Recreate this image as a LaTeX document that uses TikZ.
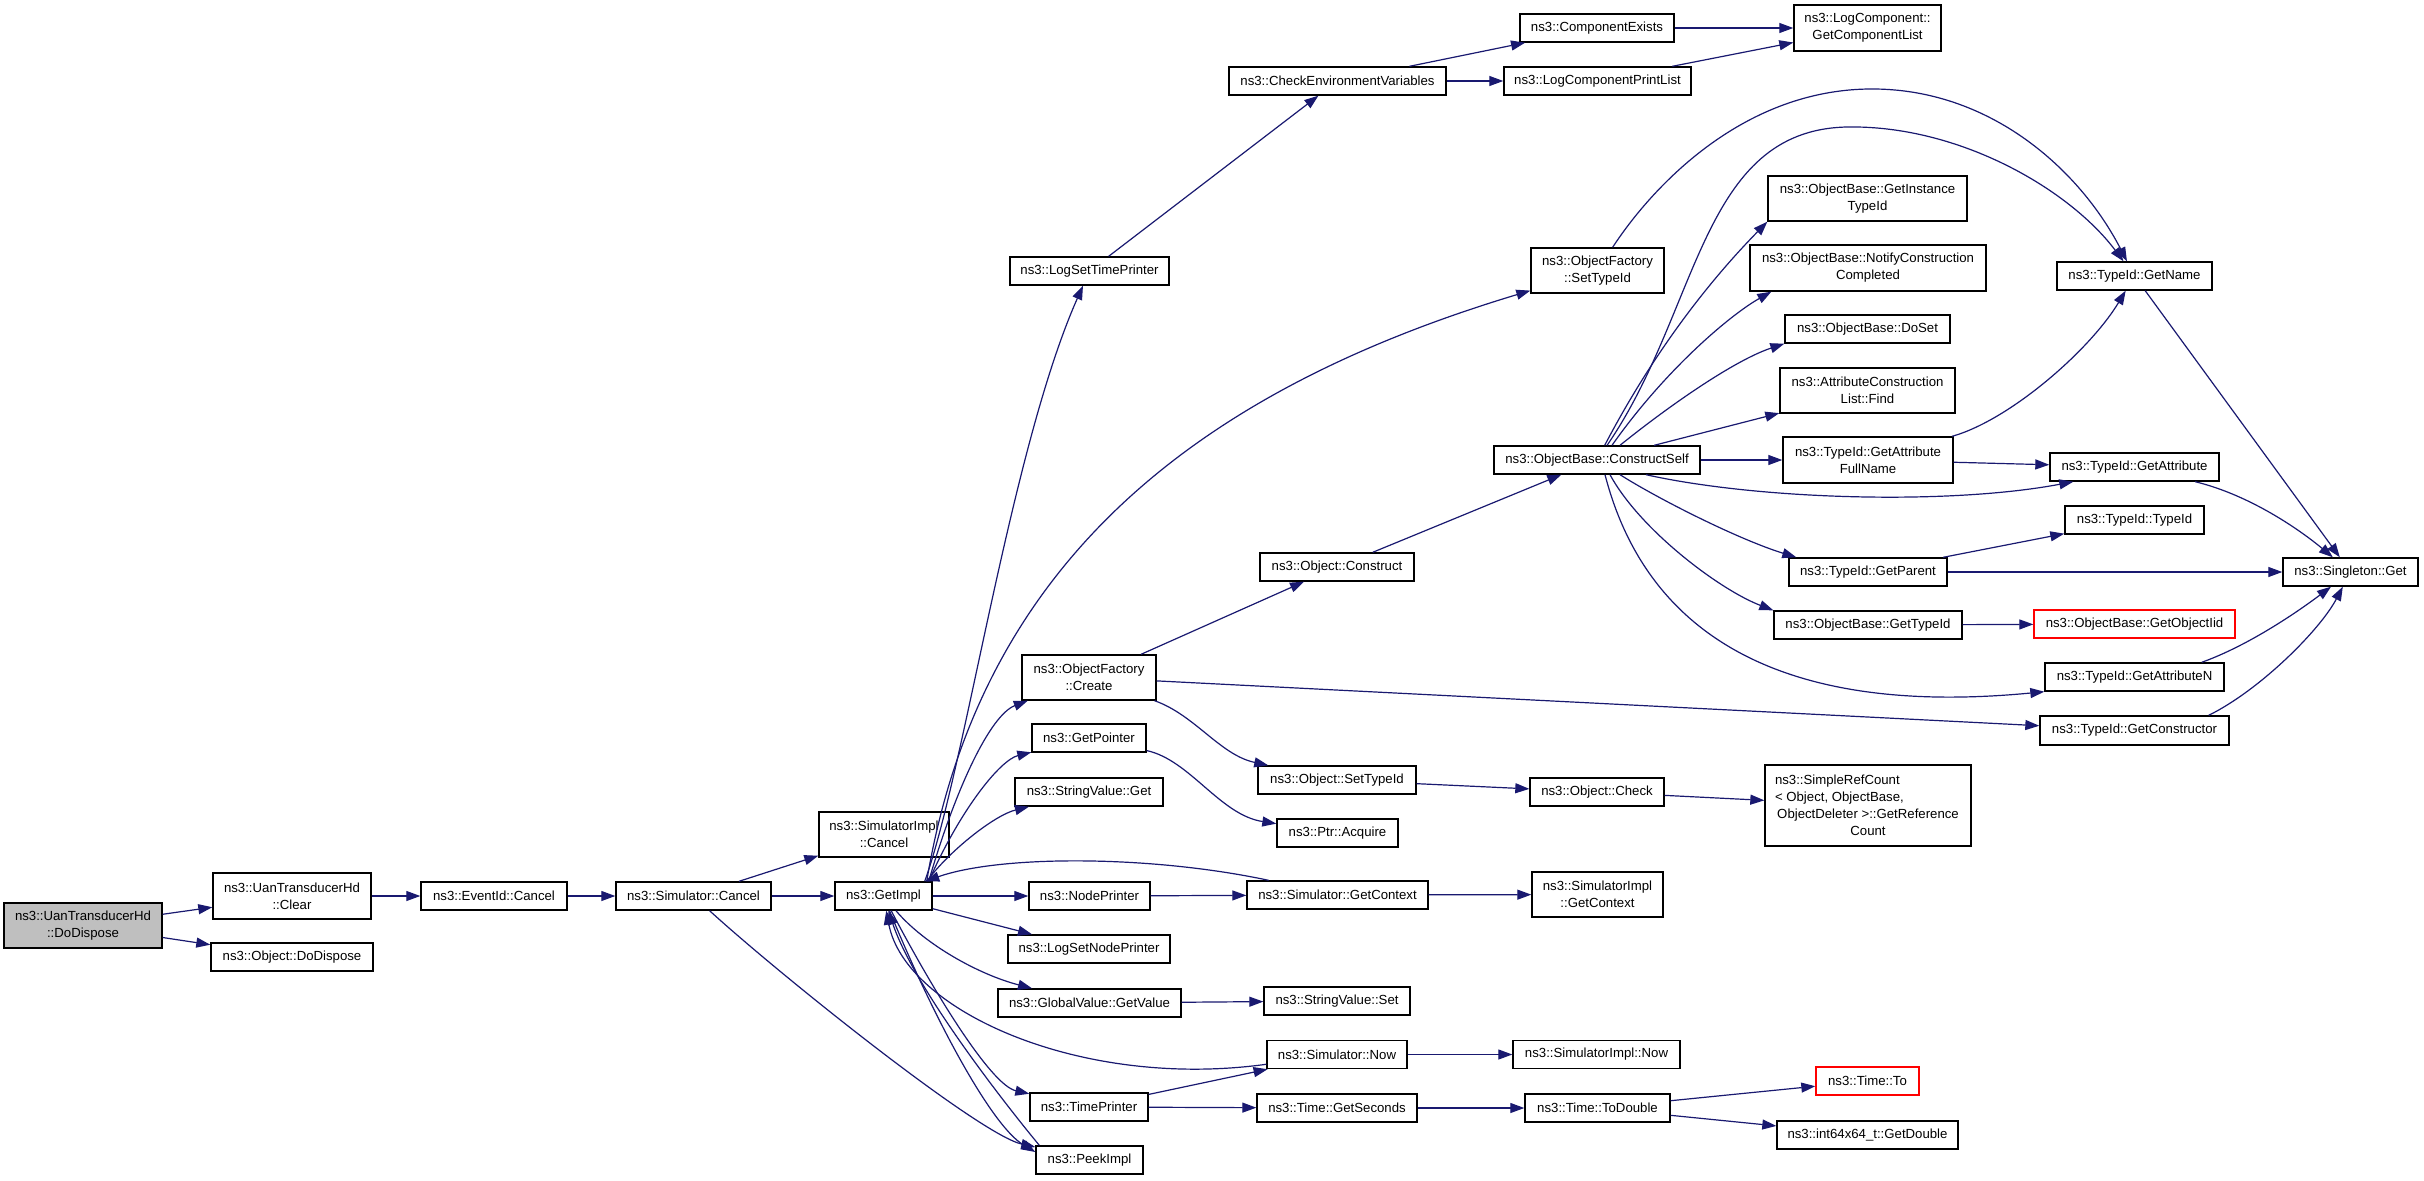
\documentclass[tikz,border=0pt]{standalone}
\usepackage{fontspec}
\setmainfont{Liberation Sans}
\usetikzlibrary{arrows.meta}
\definecolor{edgecol}{HTML}{191970}
\definecolor{grayfill}{HTML}{BFBFBF}
\begin{document}
\begin{tikzpicture}[x=1pt,y=-1pt,
  fn/.style={draw=black, line width=1.4pt, fill=white, inner sep=0pt, align=center,
             font=\fontsize{13.2}{17}\selectfont},
  hilite/.style={draw=red},
  edge/.style={draw=edgecol, line width=1.2pt, -{Triangle[length=14pt,width=10pt]}},
]
\fill[white] (0,0) rectangle (2424,1180);
\useasboundingbox (0,0) rectangle (2424,1180);

% nodes
\node[fn, fill=grayfill, minimum width=158pt, minimum height=45pt] (dodispose) at (83,925.5) {ns3::UanTransducerHd\\::DoDispose};
\node[fn, minimum width=158pt, minimum height=46pt] (clear) at (292,896) {ns3::UanTransducerHd\\::Clear};
\node[fn, minimum width=162pt, minimum height=28pt] (objdispose) at (292,957) {ns3::Object::DoDispose};
\node[fn, minimum width=146pt, minimum height=28pt] (eventcancel) at (494,896) {ns3::EventId::Cancel};
\node[fn, minimum width=155pt, minimum height=28pt] (simcancel) at (693.5,896) {ns3::Simulator::Cancel};
\node[fn, minimum width=130pt, minimum height=45pt] (simimplcancel) at (884,834.5) {ns3::SimulatorImpl\\::Cancel};
\node[fn, minimum width=97pt, minimum height=28pt] (getimpl) at (883.5,896) {ns3::GetImpl};
\node[fn, minimum width=159pt, minimum height=28pt] (logsettime) at (1089.5,271) {ns3::LogSetTimePrinter};
\node[fn, minimum width=217pt, minimum height=28pt] (checkenv) at (1337.5,81) {ns3::CheckEnvironmentVariables};
\node[fn, minimum width=154pt, minimum height=28pt] (compexists) at (1597,28) {ns3::ComponentExists};
\node[fn, minimum width=187pt, minimum height=28pt] (logcompprint) at (1597.5,81) {ns3::LogComponentPrintList};
\node[fn, minimum width=147pt, minimum height=46pt] (getcomplist) at (1867.5,28) {ns3::LogComponent::\\GetComponentList};
\node[fn, minimum width=133pt, minimum height=45pt] (ofsettypeid) at (1597.5,270.5) {ns3::ObjectFactory\\::SetTypeId};
\node[fn, minimum width=199pt, minimum height=45pt] (getinstance) at (1867.5,198.5) {ns3::ObjectBase::GetInstance\\TypeId};
\node[fn, minimum width=236pt, minimum height=46pt] (notify) at (1868,268) {ns3::ObjectBase::NotifyConstruction\\Completed};
\node[fn, minimum width=165pt, minimum height=28pt] (doset) at (1867.5,329) {ns3::ObjectBase::DoSet};
\node[fn, minimum width=175pt, minimum height=45pt] (acfind) at (1867.5,390.5) {ns3::AttributeConstruction\\List::Find};
\node[fn, minimum width=206pt, minimum height=28pt] (constructself) at (1597,460) {ns3::ObjectBase::ConstructSelf};
\node[fn, minimum width=170pt, minimum height=46pt] (getattrfull) at (1868,460) {ns3::TypeId::GetAttribute\\FullName};
\node[fn, minimum width=155pt, minimum height=28pt] (getname) at (2134.5,276) {ns3::TypeId::GetName};
\node[fn, minimum width=169pt, minimum height=28pt] (getattribute) at (2134.5,467) {ns3::TypeId::GetAttribute};
\node[fn, minimum width=139pt, minimum height=28pt] (typeidtypeid) at (2134.5,520) {ns3::TypeId::TypeId};
\node[fn, minimum width=158pt, minimum height=28pt] (getparent) at (1868,572) {ns3::TypeId::GetParent};
\node[fn, minimum width=135pt, minimum height=28pt] (singleton) at (2350.5,572) {ns3::Singleton::Get};
\node[fn, minimum width=188pt, minimum height=28pt] (getobjtypeid) at (1868,625) {ns3::ObjectBase::GetTypeId};
\node[fn, hilite, minimum width=201pt, minimum height=28pt] (getobjectiid) at (2134.5,624) {ns3::ObjectBase::GetObjectIid};
\node[fn, minimum width=179pt, minimum height=28pt] (getattrn) at (2134.5,677) {ns3::TypeId::GetAttributeN};
\node[fn, minimum width=189pt, minimum height=29pt] (getconstructor) at (2134.5,730.5) {ns3::TypeId::GetConstructor};
\node[fn, minimum width=206pt, minimum height=81pt] (simplerefcount) at (1868,805.5)
  {\makebox[186pt][l]{ns3::SimpleRefCount}\\\makebox[186pt][l]{< Object, ObjectBase,}\\ObjectDeleter >::GetReference\\Count};
\node[fn, minimum width=154pt, minimum height=28pt] (construct) at (1337,567) {ns3::Object::Construct};
\node[fn, minimum width=134pt, minimum height=45pt] (create) at (1089,677.5) {ns3::ObjectFactory\\::Create};
\node[fn, minimum width=114pt, minimum height=28pt] (getpointer) at (1089,738) {ns3::GetPointer};
\node[fn, minimum width=148pt, minimum height=28pt] (stringget) at (1089,792) {ns3::StringValue::Get};
\node[fn, minimum width=158pt, minimum height=28pt] (objsettypeid) at (1337,780) {ns3::Object::SetTypeId};
\node[fn, minimum width=134pt, minimum height=28pt] (objcheck) at (1597,792) {ns3::Object::Check};
\node[fn, minimum width=121pt, minimum height=28pt] (ptracquire) at (1337.5,833) {ns3::Ptr::Acquire};
\node[fn, minimum width=121pt, minimum height=28pt] (nodeprinter) at (1089.5,896) {ns3::NodePrinter};
\node[fn, minimum width=181pt, minimum height=28pt] (simgetcontext) at (1337.5,895) {ns3::Simulator::GetContext};
\node[fn, minimum width=131pt, minimum height=45pt] (simimplgetcontext) at (1597.5,894.5) {ns3::SimulatorImpl\\::GetContext};
\node[fn, minimum width=162pt, minimum height=28pt] (logsetnodeprinter) at (1089,949) {ns3::LogSetNodePrinter};
\node[fn, minimum width=183pt, minimum height=28pt] (globalgetvalue) at (1089.5,1003) {ns3::GlobalValue::GetValue};
\node[fn, minimum width=146pt, minimum height=28pt] (stringset) at (1337,1001) {ns3::StringValue::Set};
\node[fn, minimum width=140pt, minimum height=28pt] (simnow) at (1337,1054.5) {ns3::Simulator::Now};
\node[fn, minimum width=167pt, minimum height=28pt] (simimplnow) at (1596.5,1054.5) {ns3::SimulatorImpl::Now};
\node[fn, minimum width=118pt, minimum height=28pt] (timeprinter) at (1089,1107) {ns3::TimePrinter};
\node[fn, minimum width=160pt, minimum height=28pt] (getseconds) at (1337,1108) {ns3::Time::GetSeconds};
\node[fn, minimum width=145pt, minimum height=28pt] (todouble) at (1597.5,1108) {ns3::Time::ToDouble};
\node[fn, hilite, minimum width=103pt, minimum height=28pt] (timeto) at (1867.5,1081) {ns3::Time::To};
\node[fn, minimum width=181pt, minimum height=28pt] (getdouble) at (1867.5,1135) {ns3::int64x64\_t::GetDouble};
\node[fn, minimum width=107pt, minimum height=28pt] (peekimpl) at (1089.5,1160) {ns3::PeekImpl};

% edges
\draw[edge] (dodispose) -- (clear);
\draw[edge] (dodispose) -- (objdispose);
\draw[edge] (clear) -- (eventcancel);
\draw[edge] (eventcancel) -- (simcancel);
\draw[edge] (simcancel) -- (simimplcancel);
\draw[edge] (simcancel) -- (getimpl);
\draw[edge] (simcancel) .. controls (780,975) and (980,1135) .. ([yshift=13pt]peekimpl.west);

\draw[edge] ([xshift=-8pt]getimpl.north east) .. controls (965,770) and (1010,450) .. (logsettime);
\draw[edge] ([xshift=-6pt]getimpl.north east) .. controls (980,560) and (1200,390) .. (ofsettypeid);
\draw[edge] ([xshift=-4pt]getimpl.north east) .. controls (955,790) and (990,715) .. (create);
\draw[edge] ([xshift=-4pt]getimpl.north east) .. controls (960,810) and (1000,760) .. (getpointer);
\draw[edge] ([xshift=-6pt]getimpl.north east) .. controls (950,850) and (995,815) .. (stringget);
\draw[edge] (getimpl) -- (nodeprinter);
\draw[edge] (getimpl) -- (logsetnodeprinter);
\draw[edge] (getimpl) .. controls (925,945) and (980,975) .. (globalgetvalue);
\draw[edge] (getimpl) .. controls (930,985) and (990,1085) .. (timeprinter);
\draw[edge] (getimpl) .. controls (930,1010) and (990,1125) .. ([yshift=8pt]peekimpl.west);
\draw[edge] ([xshift=4pt]peekimpl.north west) .. controls (1010,1110) and (915,990) .. (getimpl);
\draw[edge] (simgetcontext) .. controls (1150,855) and (1000,855) .. (getimpl);
\draw[edge] (simnow) .. controls (1080,1090) and (905,1010) .. (getimpl);

\draw[edge] (nodeprinter) -- (simgetcontext);
\draw[edge] (simgetcontext) -- (simimplgetcontext);
\draw[edge] (globalgetvalue) -- (stringset);
\draw[edge] (simnow) -- (simimplnow);
\draw[edge] (timeprinter) -- (simnow);
\draw[edge] (timeprinter) -- (getseconds);
\draw[edge] (getseconds) -- (todouble);
\draw[edge] (todouble) -- (timeto);
\draw[edge] (todouble) -- (getdouble);

\draw[edge] (create) -- (construct);
\draw[edge] (create) -- (getconstructor);
\draw[edge] (create) .. controls (1195,715) and (1220,755) .. (objsettypeid);
\draw[edge] (getpointer) .. controls (1190,760) and (1220,815) .. (ptracquire);
\draw[edge] (objsettypeid) -- (objcheck);
\draw[edge] (objcheck) -- (simplerefcount);
\draw[edge] (construct) -- (constructself);

\draw[edge] (constructself) .. controls (1665,330) and (1730,260) .. (getinstance.south west);
\draw[edge] ([xshift=15pt]constructself.north) .. controls (1665,370) and (1730,315) .. ([xshift=22pt]notify.south west);
\draw[edge] ([xshift=23pt]constructself.north) .. controls (1670,405) and (1735,360) .. (doset.south west);
\draw[edge] (constructself) -- (acfind);
\draw[edge] (constructself) -- (getattrfull);
\draw[edge] ([xshift=49pt]constructself.south) .. controls (1760,500) and (1950,505) .. ([xshift=24pt]getattribute.south west);
\draw[edge] ([xshift=23pt]constructself.south) .. controls (1660,500) and (1740,540) .. ([xshift=8pt]getparent.north west);
\draw[edge] ([xshift=13pt]constructself.south) .. controls (1640,530) and (1720,590) .. (getobjtypeid.north west);
\draw[edge] ([xshift=8pt]constructself.south) .. controls (1640,610) and (1750,720) .. (getattrn.south west);
\draw[edge] (constructself) .. controls (1700,310) and (1700,130) .. (1847,127) .. controls (1960,125) and (2070,190) .. (getname);
\draw[edge] (ofsettypeid) .. controls (1650,190) and (1740,90) .. (1870,89) .. controls (1990,88) and (2080,170) .. (getname);

\draw[edge] (getattrfull) .. controls (2010,420) and (2090,350) .. (getname);
\draw[edge] (getattrfull) -- (getattribute);
\draw[edge] (getname) -- (singleton);
\draw[edge] (getattribute) .. controls (2250,495) and (2300,530) .. (singleton);
\draw[edge] (getparent) -- (typeidtypeid);
\draw[edge] (getparent) -- (singleton);
\draw[edge] (getobjtypeid) -- (getobjectiid);
\draw[edge] ([xshift=-23pt]getattrn.north east) .. controls (2250,645) and (2300,610) .. (singleton);
\draw[edge] ([xshift=-21pt]getconstructor.north east) .. controls (2260,690) and (2320,630) .. (singleton);

\draw[edge] (logsettime) -- (checkenv);
\draw[edge] (checkenv) -- (compexists);
\draw[edge] (checkenv) -- (logcompprint);
\draw[edge] (compexists) -- (getcomplist);
\draw[edge] (logcompprint) -- (getcomplist);
\end{tikzpicture}
\end{document}
